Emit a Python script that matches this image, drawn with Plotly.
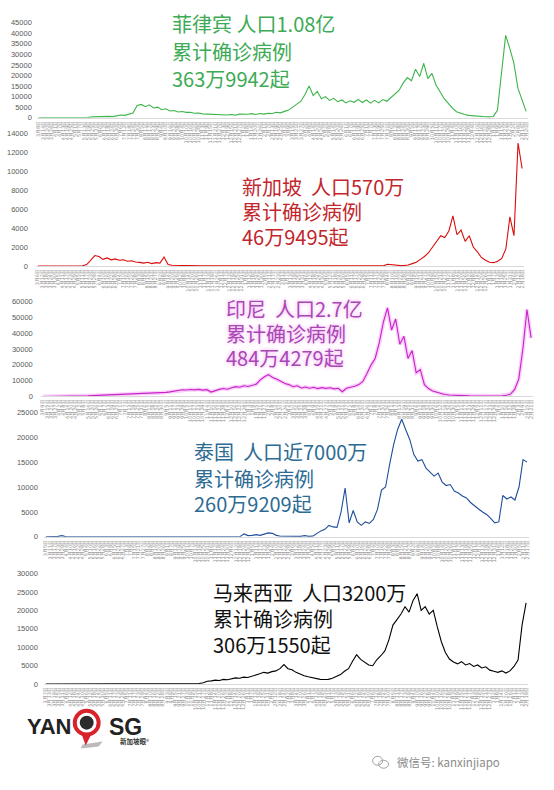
import pandas as pd
import plotly.graph_objects as go

W, H = 554, 790

# daily new cases, one reading about every 6 days
ph_cases = [0, 0, 0, 10, 0, 20, 10, 0, 10, 0,
            20, 30, 60, 400, 500, 350, 450, 600, 500, 900,
            1300, 1100, 1800, 2200, 5800, 6300, 5200, 6100, 4600, 5000,
            3800, 4200, 3200, 3400, 2700, 2900, 2500, 2600, 2100, 2200,
            1800, 1700, 1900, 1500, 1700, 1400, 1300, 1500, 1200, 1700,
            1500, 1600, 1900, 1500, 2000, 1700, 2100, 2000, 2600, 2300,
            3000, 3600, 5000, 6500, 7800, 11000, 15000, 10500, 12500, 9000,
            10000, 8200, 9200, 7600, 8400, 7000, 8000, 7300, 8700, 7200,
            8400, 6900, 8200, 7000, 8600, 7800, 9500, 11500, 13000, 16500,
            19000, 17500, 23000, 19500, 25800, 18500, 21000, 15500, 12000, 9000,
            6800, 4500, 2800, 2000, 1500, 1100, 900, 600, 500, 450,
            400, 600, 3500, 22000, 39000, 33000, 26000, 14000, 8000, 3000]

sg_cases = [0, 0, 0, 0, 0, 0, 0, 0, 0, 0,
            10, 30, 150, 600, 1100, 1000, 700, 850, 650, 750,
            600, 650, 500, 550, 420, 380, 300, 400, 250, 350,
            300, 950, 150, 80, 60, 40, 30, 20, 15, 10,
            10, 8, 10, 5, 8, 10, 5, 10, 15, 10,
            10, 20, 15, 10, 20, 15, 20, 25, 20, 15,
            20, 25, 15, 20, 25, 30, 20, 15, 20, 25,
            20, 30, 40, 25, 20, 15, 20, 25, 30, 40,
            20, 20, 30, 25, 20, 40, 180, 120, 60, 40,
            50, 100, 250, 400, 700, 1000, 1400, 2000, 2600, 3200,
            3000, 3700, 5300, 3300, 3800, 2600, 3200, 2000, 1500, 900,
            600, 400, 350, 500, 800, 1800, 5200, 3200, 13000, 10300]

id_cases = [0, 0, 0, 0, 0, 10, 50, 150, 250, 300,
            350, 400, 550, 650, 700, 900, 1000, 1200, 1300, 1400,
            1600, 1500, 1800, 1700, 1900, 2000, 2100, 2000, 2200, 2300,
            2600, 2900, 3300, 3800, 4200, 4100, 4400, 4200, 4500, 4000,
            4300, 2800, 3800, 4500, 5000, 4600, 5500, 6200, 5800, 6800,
            6300, 7200, 7800, 10500, 12500, 13800, 12000, 11000, 9500, 8200,
            7500, 6200, 6800, 5400, 6000, 5200, 5800, 5000, 5600, 5100,
            5500, 4800, 5200, 3000, 5200, 5800, 6500, 7500, 9500, 14500,
            20000, 24000, 34000, 47000, 56000, 42000, 49000, 33000, 38000, 24000,
            29000, 15000, 17000, 7500, 5000, 3500, 2600, 1800, 1200, 900,
            700, 600, 500, 400, 350, 300, 300, 250, 250, 200,
            250, 300, 500, 800, 1500, 4500, 11000, 30000, 55000, 37000]

th_cases = [0, 0, 0, 100, 250, 30, 10, 5, 5, 5,
            5, 5, 5, 5, 5, 5, 5, 5, 5, 5,
            5, 5, 5, 5, 5, 5, 5, 5, 5, 5,
            5, 5, 5, 5, 5, 5, 5, 5, 5, 5,
            5, 5, 5, 5, 5, 5, 5, 10, 20, 600,
            250, 300, 450, 300, 600, 800, 700, 300, 120, 100,
            100, 90, 120, 100, 250, 100, 150, 700, 1200, 1500,
            2300, 2000, 1900, 5000, 9800, 2800, 5300, 3000, 2300, 3000,
            2700, 3500, 5500, 9400, 10000, 14500, 18500, 21600, 23600, 21500,
            19500, 16500, 15200, 15500, 13800, 13000, 12200, 12800, 11000, 10300,
            10500, 9200, 8800, 8200, 7800, 6900, 6200, 5600, 5000, 4500,
            3700, 2800, 3000, 8300, 7600, 8000, 7400, 10000, 15500, 15000]

my_cases = [0, 0, 0, 0, 0, 0, 0, 0, 200, 40,
            150, 180, 120, 40, 20, 10, 10, 10, 10, 10,
            150, 60, 10, 10, 10, 10, 10, 10, 10, 10,
            10, 10, 10, 10, 10, 10, 20, 150, 200, 400,
            800, 900, 1100, 1000, 1300, 1200, 1500, 1700, 1600, 1900,
            1800, 2100, 2300, 2800, 3200, 3000, 3400, 3600, 4200, 5300,
            4200, 3900, 3200, 2700, 2300, 2000, 1700, 1500, 1300, 1250,
            1300, 1600, 2000, 2600, 3500, 4200, 6200, 8000, 6700, 6000,
            5200, 5000, 6600, 7700, 9000, 12000, 16000, 17500, 19000, 21000,
            19500, 22700, 24500, 20000, 21000, 19000, 20000, 15500, 11500, 8600,
            6800, 6000, 5500, 6100, 5200, 5600, 4800, 5200, 4400, 4700,
            3800, 3500, 3200, 3600, 3000, 3600, 4800, 6500, 16000, 22000]

start_dates = {'ph': '2020-03-08', 'sg': '2020-03-06', 'id': '2020-03-09',
               'th': '2020-03-05', 'my': '2020-03-07'}

ph_ticks = [0, 5000, 10000, 15000, 20000, 25000, 30000, 35000, 40000, 45000]
sg_ticks = [0, 2000, 4000, 6000, 8000, 10000, 12000, 14000]
id_ticks = [0, 10000, 20000, 30000, 40000, 50000, 60000]
th_ticks = [0, 5000, 10000, 15000, 20000, 25000]
my_ticks = [0, 5000, 10000, 15000, 20000, 25000, 30000]

ph_title = ['菲律宾 人口1.08亿', '累计确诊病例', '363万9942起']
sg_title = ['新加坡\u00a0\u00a0人口570万', '累计确诊病例', '46万9495起']
id_title = ['印尼\u00a0\u00a0人口2.7亿', '累计确诊病例', '484万4279起']
th_title = ['泰国\u00a0\u00a0人口近7000万', '累计确诊病例', '260万9209起']
my_title = ['马来西亚\u00a0\u00a0人口3200万', '累计确诊病例', '306万1550起']


def px(x):
    return x / W


def py(y):
    return 1 - y / H


# pixel boxes: left, right, top tick, zero line
panels = [
    dict(key='ph', cases=ph_cases, ticks=ph_ticks, title=ph_title, box=(38, 527, 19, 115),
         line='#3cb54a', text='#3dab55', tx=170, ty=(20, 48, 75), standoff=4),
    dict(key='sg', cases=sg_cases, ticks=sg_ticks, title=sg_title, box=(37, 523, 131, 265),
         line='#dd0a0a', text='#c1272d', tx=240, ty=(185, 210, 235), standoff=7),
    dict(key='id', cases=id_cases, ticks=id_ticks, title=id_title, box=(42, 532, 301, 397),
         line='#c822c8', text='#a947b5', tx=224, ty=(308, 333, 358), standoff=7),
    dict(key='th', cases=th_cases, ticks=th_ticks, title=th_title, box=(45, 528, 413, 539),
         line='#1f4e9a', text='#2d6b93', tx=192, ty=(453, 480, 505), standoff=5),
    dict(key='my', cases=my_cases, ticks=my_ticks, title=my_title, box=(45, 527, 576, 688),
         line='#000000', text='#111111', tx=211, ty=(595, 622, 648), standoff=5),
]

cjk = 'Noto Sans CJK SC'
fig = go.Figure()
annotations = []

for k, p in enumerate(panels, start=1):
    n = len(p['cases'])
    dates = pd.date_range(start_dates[p['key']], periods=n, freq='6D')
    xs = list(dates.strftime('%Y-%m-%d'))
    labels = [f'{d.month}月{d.day}日' for d in dates]
    xa = 'x' if k == 1 else f'x{k}'
    ya = 'y' if k == 1 else f'y{k}'
    left, right, top, bottom = p['box']
    half = (right - left) / (n - 1) / 2

    if p['key'] == 'id':
        # soft pink halo round the Indonesia line
        fig.add_trace(go.Scatter(x=xs, y=p['cases'], mode='lines',
                                 line=dict(color='rgba(240,120,240,0.35)', width=4),
                                 xaxis=xa, yaxis=ya, showlegend=False, hoverinfo='skip'))
    fig.add_trace(go.Scatter(x=xs, y=p['cases'], mode='lines',
                             line=dict(color=p['line'], width=1.1),
                             xaxis=xa, yaxis=ya, showlegend=False, hoverinfo='skip'))

    suffix = '' if k == 1 else str(k)
    fig.update_layout({
        f'xaxis{suffix}': dict(
            domain=[px(left - half), px(right + half)], anchor=ya, type='category',
            range=[-0.5, n - 0.5], tickmode='array', tickvals=xs, ticktext=labels,
            tickangle=-90, tickfont=dict(family='DejaVu Sans', size=5, color='#8c8c8c'),
            showline=True, linecolor='#d9d9d9', linewidth=1, ticks='', showgrid=False,
            zeroline=False, fixedrange=True),
        f'yaxis{suffix}': dict(
            domain=[py(bottom), py(top)], anchor=xa, range=[0, p['ticks'][-1]],
            tickmode='array', tickvals=p['ticks'], ticktext=[str(t) for t in p['ticks']],
            tickfont=dict(family='Liberation Sans', size=7.5, color='#595959'),
            ticklabelstandoff=p['standoff'], ticks='', showline=False, showgrid=False,
            zeroline=False, fixedrange=True),
    })

    for line, y in zip(p['title'], p['ty']):
        font = dict(family=cjk, size=20, color=p['text'])
        if p['key'] == 'id':
            font['shadow'] = '0px 0px 4px #f4a6f4'
        annotations.append(dict(x=px(p['tx']), y=py(y), xref='paper', yref='paper',
                                xanchor='left', yanchor='middle', showarrow=False,
                                text=line, font=font))

# logo and account name at the bottom
annotations += [
    dict(x=px(48), y=py(731), xref='paper', yref='paper', xanchor='center', yanchor='middle',
         showarrow=False, text='<b>YAN</b>',
         font=dict(family='Liberation Sans', size=22, color='#222222')),
    dict(x=px(125), y=py(731), xref='paper', yref='paper', xanchor='center', yanchor='middle',
         showarrow=False, text='<b>SG</b>',
         font=dict(family='Liberation Sans', size=23, color='#222222')),
    dict(x=px(134), y=py(745), xref='paper', yref='paper', xanchor='center', yanchor='middle',
         showarrow=False, text='<b>新加坡眼</b>®', font=dict(family=cjk, size=6.5, color='#333333')),
    dict(x=px(395), y=py(767), xref='paper', yref='paper', xanchor='left', yanchor='middle',
         showarrow=False, text='微信号: kanxinjiapo',
         font=dict(family=cjk, size=11.5, color='#8a8a8a')),
]

shapes = [
    dict(type='path', xref='paper', yref='paper', line=dict(width=0),
         fillcolor='rgba(120,120,120,0.5)',
         path=f'M {px(82)} {py(749)} L {px(102)} {py(746)} L {px(98)} {py(751)} L {px(80)} {py(753)} Z'),
    dict(type='path', xref='paper', yref='paper', line=dict(width=0),
         fillcolor='#d8232a',
         path=f'M {px(80)} {py(736)} L {px(92)} {py(736)} L {px(85)} {py(750)} Z'),
    dict(type='circle', xref='paper', yref='paper', x0=px(74), x1=px(98), y0=py(739), y1=py(715),
         line=dict(color='#d8232a', width=4), fillcolor='white'),
    dict(type='circle', xref='paper', yref='paper', x0=px(79), x1=px(93), y0=py(734), y1=py(720),
         line=dict(width=0), fillcolor='#2b2b2b'),
    dict(type='circle', xref='paper', yref='paper', x0=px(373), x1=px(383), y0=py(770), y1=py(761),
         line=dict(color='#a0a0a0', width=1)),
    dict(type='circle', xref='paper', yref='paper', x0=px(379), x1=px(389), y0=py(773), y1=py(765),
         line=dict(color='#a0a0a0', width=1)),
]

fig.update_layout(width=W, height=H, margin=dict(l=0, r=0, t=0, b=0),
                  paper_bgcolor='white', plot_bgcolor='white',
                  annotations=annotations, shapes=shapes, showlegend=False)

# the page's default body margin would push the chart 8px right and down
fig.write_html("out.html", config={'displayModeBar': False},
               post_script="document.body.style.margin='0';")
